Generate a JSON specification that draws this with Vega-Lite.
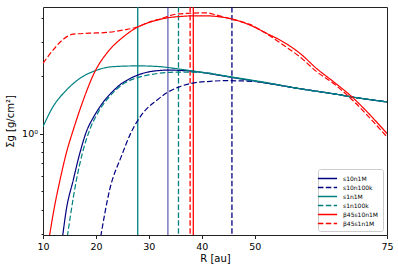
{
  "$schema": "https://vega.github.io/schema/vega-lite/v6.json",
  "width": 344,
  "height": 228,
  "autosize": "none",
  "padding": {"left": 43, "top": 7, "right": 11, "bottom": 33},
  "config": {
    "font": "DejaVu Sans",
    "view": {"stroke": "#222", "strokeWidth": 1},
    "axis": {"grid": false, "domain": false, "tickColor": "#222", "labelColor": "#000", "titleColor": "#000", "labelFontSize": 9.5, "titleFontSize": 10, "titleFontWeight": "normal", "labelFont": "DejaVu Sans", "titleFont": "DejaVu Sans", "labelFlush": false, "labelOverlap": false}
  },
  "datasets": {
    "curves": [
      {"series": "s10n1M", "R": 13.7, "S": 0.29},
      {"series": "s10n1M", "R": 14.4, "S": 0.4},
      {"series": "s10n1M", "R": 15.7, "S": 0.57},
      {"series": "s10n1M", "R": 16.8, "S": 0.76},
      {"series": "s10n1M", "R": 18.3, "S": 1.04},
      {"series": "s10n1M", "R": 19.5, "S": 1.21},
      {"series": "s10n1M", "R": 20.7, "S": 1.37},
      {"series": "s10n1M", "R": 22.0, "S": 1.53},
      {"series": "s10n1M", "R": 23.3, "S": 1.67},
      {"series": "s10n1M", "R": 24.5, "S": 1.79},
      {"series": "s10n1M", "R": 25.8, "S": 1.89},
      {"series": "s10n1M", "R": 28.0, "S": 2.02},
      {"series": "s10n1M", "R": 30.2, "S": 2.1},
      {"series": "s10n1M", "R": 32.1, "S": 2.13},
      {"series": "s10n1M", "R": 34.0, "S": 2.14},
      {"series": "s10n1M", "R": 36.0, "S": 2.13},
      {"series": "s10n1M", "R": 38.4, "S": 2.11},
      {"series": "s10n1M", "R": 40.0, "S": 2.08},
      {"series": "s10n1M", "R": 45.7, "S": 1.96},
      {"series": "s10n1M", "R": 52.3, "S": 1.83},
      {"series": "s10n1M", "R": 58.6, "S": 1.71},
      {"series": "s10n1M", "R": 64.9, "S": 1.61},
      {"series": "s10n1M", "R": 68.4, "S": 1.55},
      {"series": "s10n1M", "R": 75.0, "S": 1.46},

      {"series": "s10n100k", "R": 20.9, "S": 0.29},
      {"series": "s10n100k", "R": 22.6, "S": 0.51},
      {"series": "s10n100k", "R": 24.8, "S": 0.76},
      {"series": "s10n100k", "R": 26.7, "S": 1.02},
      {"series": "s10n100k", "R": 29.0, "S": 1.29},
      {"series": "s10n100k", "R": 31.5, "S": 1.49},
      {"series": "s10n100k", "R": 33.4, "S": 1.63},
      {"series": "s10n100k", "R": 35.5, "S": 1.74},
      {"series": "s10n100k", "R": 37.8, "S": 1.82},
      {"series": "s10n100k", "R": 41.6, "S": 1.87},
      {"series": "s10n100k", "R": 44.7, "S": 1.885},
      {"series": "s10n100k", "R": 47.0, "S": 1.88},
      {"series": "s10n100k", "R": 49.5, "S": 1.87},
      {"series": "s10n100k", "R": 52.3, "S": 1.83},
      {"series": "s10n100k", "R": 58.6, "S": 1.71},
      {"series": "s10n100k", "R": 64.9, "S": 1.61},
      {"series": "s10n100k", "R": 68.4, "S": 1.55},
      {"series": "s10n100k", "R": 75.0, "S": 1.46},

      {"series": "s1n1M", "R": 10.0, "S": 1.085},
      {"series": "s1n1M", "R": 11.9, "S": 1.38},
      {"series": "s1n1M", "R": 14.4, "S": 1.68},
      {"series": "s1n1M", "R": 17.0, "S": 1.94},
      {"series": "s1n1M", "R": 19.8, "S": 2.12},
      {"series": "s1n1M", "R": 23.3, "S": 2.23},
      {"series": "s1n1M", "R": 28.0, "S": 2.25},
      {"series": "s1n1M", "R": 32.1, "S": 2.23},
      {"series": "s1n1M", "R": 35.0, "S": 2.18},
      {"series": "s1n1M", "R": 39.7, "S": 2.09},
      {"series": "s1n1M", "R": 45.7, "S": 1.97},
      {"series": "s1n1M", "R": 52.3, "S": 1.84},
      {"series": "s1n1M", "R": 58.6, "S": 1.71},
      {"series": "s1n1M", "R": 64.9, "S": 1.61},
      {"series": "s1n1M", "R": 68.4, "S": 1.55},
      {"series": "s1n1M", "R": 75.0, "S": 1.46},

      {"series": "s1n100k", "R": 14.6, "S": 0.29},
      {"series": "s1n100k", "R": 15.1, "S": 0.36},
      {"series": "s1n100k", "R": 16.3, "S": 0.57},
      {"series": "s1n100k", "R": 17.5, "S": 0.8},
      {"series": "s1n100k", "R": 18.8, "S": 1.04},
      {"series": "s1n100k", "R": 20.5, "S": 1.3},
      {"series": "s1n100k", "R": 22.5, "S": 1.55},
      {"series": "s1n100k", "R": 25.0, "S": 1.8},
      {"series": "s1n100k", "R": 28.0, "S": 1.96},
      {"series": "s1n100k", "R": 30.0, "S": 2.02},
      {"series": "s1n100k", "R": 32.0, "S": 2.06},
      {"series": "s1n100k", "R": 35.9, "S": 2.09},
      {"series": "s1n100k", "R": 40.0, "S": 2.08},
      {"series": "s1n100k", "R": 45.7, "S": 1.96},
      {"series": "s1n100k", "R": 52.3, "S": 1.83},
      {"series": "s1n100k", "R": 58.6, "S": 1.71},
      {"series": "s1n100k", "R": 64.9, "S": 1.61},
      {"series": "s1n100k", "R": 68.4, "S": 1.55},
      {"series": "s1n100k", "R": 75.0, "S": 1.46},

      {"series": "β45s10n1M", "R": 11.2, "S": 0.29},
      {"series": "β45s10n1M", "R": 12.2, "S": 0.42},
      {"series": "β45s10n1M", "R": 13.2, "S": 0.57},
      {"series": "β45s10n1M", "R": 14.4, "S": 0.79},
      {"series": "β45s10n1M", "R": 15.7, "S": 1.04},
      {"series": "β45s10n1M", "R": 17.6, "S": 1.49},
      {"series": "β45s10n1M", "R": 19.8, "S": 2.1},
      {"series": "β45s10n1M", "R": 22.0, "S": 2.61},
      {"series": "β45s10n1M", "R": 25.2, "S": 3.19},
      {"series": "β45s10n1M", "R": 28.0, "S": 3.6},
      {"series": "β45s10n1M", "R": 30.5, "S": 3.82},
      {"series": "β45s10n1M", "R": 33.4, "S": 4.0},
      {"series": "β45s10n1M", "R": 36.0, "S": 4.07},
      {"series": "β45s10n1M", "R": 38.4, "S": 4.1},
      {"series": "β45s10n1M", "R": 40.9, "S": 4.1},
      {"series": "β45s10n1M", "R": 43.5, "S": 4.05},
      {"series": "β45s10n1M", "R": 45.7, "S": 3.95},
      {"series": "β45s10n1M", "R": 49.1, "S": 3.67},
      {"series": "β45s10n1M", "R": 52.3, "S": 3.32},
      {"series": "β45s10n1M", "R": 55.4, "S": 3.0},
      {"series": "β45s10n1M", "R": 58.6, "S": 2.61},
      {"series": "β45s10n1M", "R": 61.7, "S": 2.18},
      {"series": "β45s10n1M", "R": 64.9, "S": 1.86},
      {"series": "β45s10n1M", "R": 68.4, "S": 1.55},
      {"series": "β45s10n1M", "R": 71.2, "S": 1.3},
      {"series": "β45s10n1M", "R": 75.0, "S": 1.0},

      {"series": "β45s1n1M", "R": 10.0, "S": 2.32},
      {"series": "β45s1n1M", "R": 11.9, "S": 2.72},
      {"series": "β45s1n1M", "R": 13.8, "S": 3.09},
      {"series": "β45s1n1M", "R": 15.7, "S": 3.29},
      {"series": "β45s1n1M", "R": 18.8, "S": 3.33},
      {"series": "β45s1n1M", "R": 22.0, "S": 3.36},
      {"series": "β45s1n1M", "R": 25.2, "S": 3.46},
      {"series": "β45s1n1M", "R": 28.0, "S": 3.6},
      {"series": "β45s1n1M", "R": 30.2, "S": 3.82},
      {"series": "β45s1n1M", "R": 32.1, "S": 3.95},
      {"series": "β45s1n1M", "R": 35.3, "S": 4.19},
      {"series": "β45s1n1M", "R": 37.8, "S": 4.23},
      {"series": "β45s1n1M", "R": 40.9, "S": 4.25},
      {"series": "β45s1n1M", "R": 42.8, "S": 4.14},
      {"series": "β45s1n1M", "R": 45.9, "S": 3.92},
      {"series": "β45s1n1M", "R": 49.1, "S": 3.7},
      {"series": "β45s1n1M", "R": 52.3, "S": 3.3},
      {"series": "β45s1n1M", "R": 55.4, "S": 2.89},
      {"series": "β45s1n1M", "R": 58.6, "S": 2.5},
      {"series": "β45s1n1M", "R": 61.7, "S": 2.1},
      {"series": "β45s1n1M", "R": 64.9, "S": 1.82},
      {"series": "β45s1n1M", "R": 68.4, "S": 1.5},
      {"series": "β45s1n1M", "R": 71.2, "S": 1.25},
      {"series": "β45s1n1M", "R": 75.0, "S": 0.96}
    ],
    "rules": [
      {"series": "s1n1M", "R": 27.9},
      {"series": "s10n1M", "R": 33.6},
      {"series": "s1n100k", "R": 35.6},
      {"series": "β45s1n1M", "R": 37.8},
      {"series": "β45s10n1M", "R": 38.4},
      {"series": "s10n100k", "R": 45.7}
    ]
  },
  "encoding": {
    "x": {
      "field": "R", "type": "quantitative",
      "scale": {"domain": [10, 75], "nice": false, "zero": false},
      "axis": {"values": [10, 20, 30, 40, 50, 75], "title": "R [au]", "tickSize": 3.5, "labelPadding": 3, "titlePadding": 2}
    },
    "color": {
      "field": "series", "type": "nominal",
      "scale": {
        "domain": ["s10n1M", "s10n100k", "s1n1M", "s1n100k", "β45s10n1M", "β45s1n1M"],
        "range": ["#000080", "#000080", "#008080", "#008080", "#ff0000", "#ff0000"]
      },
      "legend": {
        "title": null, "orient": "bottom-right", "offset": 4,
        "symbolType": "M-2,0H2", "symbolSize": 92, "symbolStrokeWidth": 1.3, "symbolFillColor": "transparent",
        "labelFontSize": 6, "labelFont": "DejaVu Sans", "labelColor": "#000",
        "fillColor": "white", "strokeColor": "#ccc", "cornerRadius": 2, "padding": 4,
        "rowPadding": 0, "labelOffset": 10
      }
    },
    "strokeDash": {
      "field": "series", "type": "nominal",
      "scale": {
        "domain": ["s10n1M", "s10n100k", "s1n1M", "s1n100k", "β45s10n1M", "β45s1n1M"],
        "range": [[1, 0], [5.5, 2.4], [1, 0], [5.5, 2.4], [1, 0], [5.5, 2.4]]
      },
      "legend": {
        "title": null, "orient": "bottom-right", "offset": 4,
        "symbolType": "M-2,0H2", "symbolSize": 92, "symbolStrokeWidth": 1.3, "symbolFillColor": "transparent",
        "labelFontSize": 6, "labelFont": "DejaVu Sans", "labelColor": "#000",
        "fillColor": "white", "strokeColor": "#ccc", "cornerRadius": 2, "padding": 4,
        "rowPadding": 0, "labelOffset": 10
      }
    }
  },
  "layer": [
    {
      "data": {"name": "rules"},
      "mark": {"type": "rule", "strokeWidth": 1.3, "clip": true},
      "encoding": {
        "opacity": {"condition": {"test": "datum.series == 's10n1M'", "value": 0.6}, "value": 1}
      }
    },
    {
      "data": {"name": "curves"},
      "mark": {"type": "line", "strokeWidth": 1.2, "interpolate": "monotone", "clip": true},
      "encoding": {
        "y": {
          "field": "S", "type": "quantitative",
          "scale": {"type": "log", "domain": [0.296, 4.56], "nice": false},
          "axis": {
            "values": [0.3, 0.4, 0.5, 0.6, 0.7, 0.8, 0.9, 1, 2, 3, 4],
            "labelExpr": "datum.value == 1 ? '10⁰' : ''",
            "tickSize": {"condition": {"test": "datum.value == 1", "value": 3.5}, "value": 2},
            "title": "Σg [g/cm²]", "labelPadding": 2, "titlePadding": 6
          }
        }
      }
    }
  ]
}
